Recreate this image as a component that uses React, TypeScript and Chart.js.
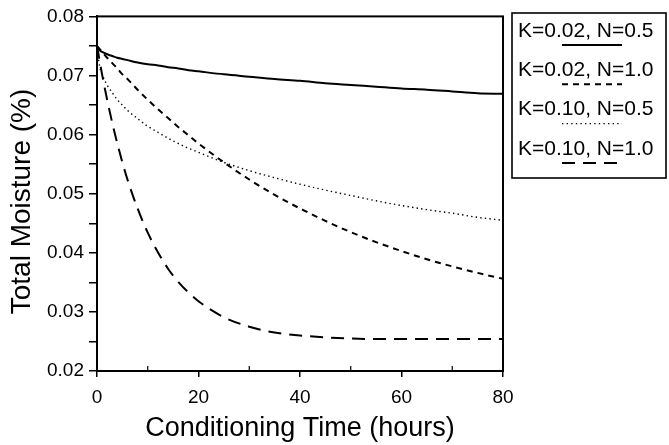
import React, { useEffect, useRef } from "react";
import { Chart, registerables } from "chart.js";

Chart.register(...registerables);

const hours = [0, 0.5, 1, 2, 3, 4, 5, 6, 8, 10, 12, 14, 16, 18, 20, 25, 30, 35, 40, 45, 50, 55, 60, 65, 70, 75, 80];

const k002n05 = [0.075, 0.0743, 0.074, 0.0736, 0.0733, 0.073, 0.0728, 0.0726, 0.0722, 0.0719, 0.0717, 0.0714, 0.0712, 0.0709, 0.0707, 0.0702, 0.0698, 0.0694, 0.0691, 0.0687, 0.0684, 0.0681, 0.0678, 0.0676, 0.0673, 0.0670, 0.0669];
const k002n10 = [0.075, 0.0745, 0.074, 0.073, 0.0721, 0.0712, 0.0702, 0.0694, 0.0676, 0.0659, 0.0643, 0.0628, 0.0613, 0.0599, 0.0585, 0.0553, 0.0524, 0.0498, 0.0475, 0.0454, 0.0435, 0.0418, 0.0403, 0.0389, 0.0377, 0.0366, 0.0356];
const k010n05 = [0.075, 0.0716, 0.0702, 0.0684, 0.0671, 0.0659, 0.065, 0.0641, 0.0627, 0.0614, 0.0604, 0.0594, 0.0585, 0.0577, 0.057, 0.0553, 0.0539, 0.0527, 0.0516, 0.0506, 0.0497, 0.0488, 0.048, 0.0473, 0.0467, 0.046, 0.0455];
const k010n10 = [0.075, 0.0726, 0.0702, 0.0659, 0.062, 0.0585, 0.0553, 0.0524, 0.0475, 0.0434, 0.0401, 0.0373, 0.0351, 0.0333, 0.0318, 0.0291, 0.0275, 0.0265, 0.026, 0.0257, 0.0255, 0.0254, 0.0254, 0.0254, 0.0254, 0.0254, 0.0254];

const seriesLabels = ["K=0.02, N=0.5", "K=0.02, N=1.0", "K=0.10, N=0.5", "K=0.10, N=1.0"];
const seriesValues = [k002n05, k002n10, k010n05, k010n10];
const seriesDash = [[], [6, 5], [1.4, 3.2], [13, 8]];
const seriesWidth = [2, 2, 1.4, 2];

const xMinorTicks = [10, 30, 50, 70];

const FONT = "'Liberation Sans', Arial, Helvetica, sans-serif";

const framePlugin = {
  id: "frameAndLegend",
  afterDraw(chart: any) {
    const ctx = chart.ctx as CanvasRenderingContext2D;
    const { left, top, right, bottom } = chart.chartArea;
    ctx.save();
    ctx.strokeStyle = "#000";
    ctx.lineWidth = 2;
    ctx.setLineDash([]);
    ctx.strokeRect(left, top, right - left, bottom - top);

    // minor inward ticks on x axis
    const xs = chart.scales.x;
    ctx.lineWidth = 1.2;
    for (const v of xMinorTicks) {
      const px = xs.getPixelForValue(v);
      ctx.beginPath();
      ctx.moveTo(px, bottom);
      ctx.lineTo(px, bottom - 5);
      ctx.stroke();
    }

    // legend box
    const bx = 512, by = 13, bw = 154, bh = 165;
    ctx.lineWidth = 1.6;
    ctx.strokeRect(bx, by, bw, bh);
    ctx.font = `21px ${FONT}`;
    ctx.fillStyle = "#000";
    ctx.textBaseline = "middle";
    ctx.textAlign = "left";
    seriesLabels.forEach((lab, i) => {
      const cy = by + 18 + i * 39.3;
      ctx.fillText(lab, bx + 6, cy);
      ctx.beginPath();
      ctx.setLineDash(seriesDash[i]);
      ctx.lineWidth = seriesWidth[i];
      const uy = cy + 14;
      ctx.moveTo(bx + 50, uy);
      ctx.lineTo(bx + 110, uy);
      ctx.stroke();
    });
    ctx.restore();
  },
};

export default function App() {
  const ref = useRef<HTMLCanvasElement | null>(null);

  useEffect(() => {
    if (!ref.current) return;
    const chart = new Chart(ref.current, {
      type: "line",
      data: {
        datasets: seriesValues.map((vals, i) => ({
          label: seriesLabels[i],
          data: hours.map((h, j) => ({ x: h, y: vals[j] })),
          borderColor: "#000",
          backgroundColor: "#000",
          borderWidth: seriesWidth[i],
          borderDash: seriesDash[i],
          pointRadius: 0,
          tension: 0.4,
          cubicInterpolationMode: "monotone" as const,
          fill: false,
        })),
      },
      options: {
        animation: false,
        responsive: false,
        maintainAspectRatio: false,
        layout: { padding: { top: 14, right: 166, left: 0, bottom: 0 } },
        plugins: {
          legend: { display: false },
          tooltip: { enabled: false },
        },
        scales: {
          x: {
            type: "linear",
            min: 0,
            max: 80,
            afterFit: (s: any) => { s.height = 74; },
            ticks: {
              stepSize: 20,
              color: "#000",
              padding: 9,
              font: { family: FONT, size: 19 },
              maxRotation: 0,
            },
            grid: { drawOnChartArea: false, tickLength: 6, color: "#000", lineWidth: 1.5 },
            border: { color: "#000", width: 2 },
            title: {
              display: true,
              text: "Conditioning Time (hours)",
              color: "#000",
              font: { family: FONT, size: 27 },
              padding: { top: 0, bottom: 0 },
            },
          },
          y: {
            type: "linear",
            min: 0.02,
            max: 0.08,
            afterFit: (s: any) => { s.width = 97; },
            ticks: {
              stepSize: 0.005,
              autoSkip: false,
              color: "#000",
              padding: 5,
              font: { family: FONT, size: 19 },
              callback: (v: any) => (Math.round(Number(v) * 1000) % 10 === 0 ? Number(v).toFixed(2) : ""),
            },
            grid: { drawOnChartArea: false, tickLength: 8, color: "#000", lineWidth: 1.5 },
            border: { color: "#000", width: 2 },
            title: {
              display: true,
              text: "Total Moisture (%)  ",
              color: "#000",
              font: { family: FONT, size: 28 },
              padding: { top: 5, bottom: 0 },
            },
          },
        },
      },
      plugins: [framePlugin],
    });
    return () => chart.destroy();
  }, []);

  return (
    <div style={{ position: "absolute", left: 0, top: 0, width: 669, height: 445, background: "#fff" }}>
      <canvas ref={ref} width={669} height={445} style={{ width: 669, height: 445, display: "block" }} />
    </div>
  );
}
